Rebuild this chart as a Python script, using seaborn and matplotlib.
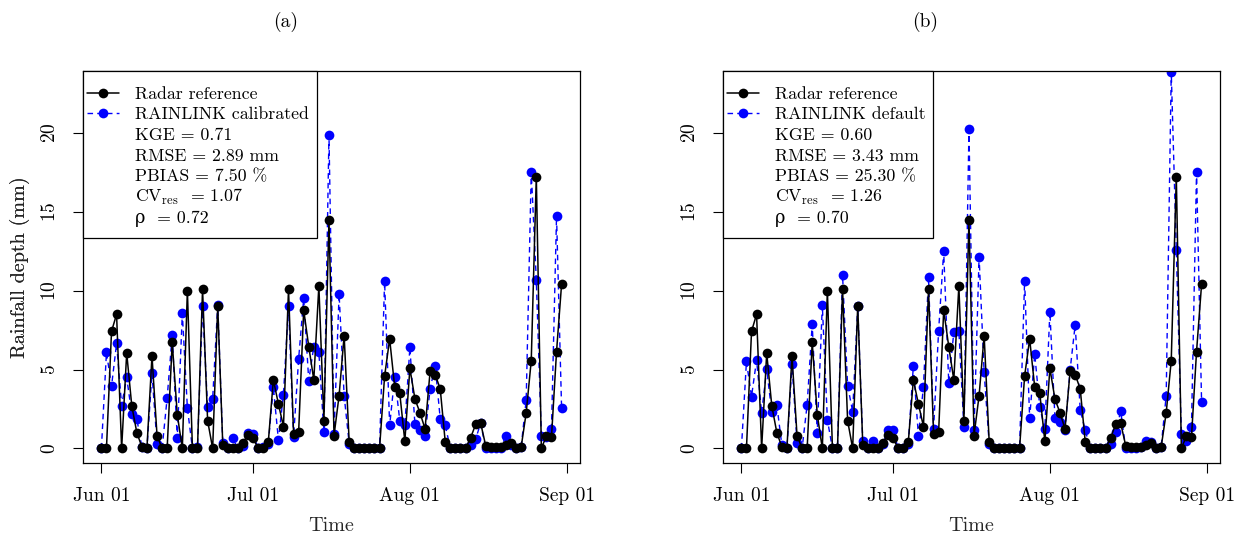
import pandas as pd
import seaborn as sns
import matplotlib.pyplot as plt
import matplotlib.dates as mdates
from matplotlib.lines import Line2D
from matplotlib.patches import Rectangle

# Daily rainfall depth (mm), 1 Jun - 31 Aug
radar = [0, 0, 7.42, 8.5, 0, 6.05, 2.72, 1.01, 0.1, 0,
         5.87, 0.82, 0, 0, 6.73, 2.15, 0, 10.0, 0, 0,
         10.1, 1.77, 0, 9.05, 0.25, 0, 0, 0, 0.36, 0.87,
         0.65, 0, 0, 0.4, 4.35, 2.83, 1.39, 10.1, 0.93, 1.03,
         8.78, 6.46, 4.35, 10.3, 1.77, 14.5, 0.82, 3.35, 7.15, 0.4,
         0, 0, 0, 0, 0, 0, 4.58, 6.94, 3.88, 3.5,
         0.46, 5.08, 3.14, 2.26, 1.24, 4.9, 4.68, 3.78, 0.38, 0,
         0, 0, 0, 0.67, 1.52, 1.6, 0.17, 0.08, 0.08, 0.1,
         0.2, 0.34, 0, 0.08, 2.26, 5.57, 17.23, 0, 0.8, 0.72,
         6.14, 10.42]

rainlink_cal = [0, 6.1, 3.94, 6.66, 2.72, 4.5, 2.2, 1.88, 0.1, 0,
                4.77, 0.3, 0, 3.2, 7.2, 0.65, 8.56, 2.57, 0, 0.1,
                9.05, 2.6, 3.14, 9.1, 0.36, 0.05, 0.65, 0, 0.15, 1.0,
                0.9, 0, 0.1, 0.3, 3.88, 0.55, 3.42, 9.05, 0.72, 5.68,
                9.51, 4.3, 6.46, 6.1, 1.03, 19.85, 0.9, 9.79, 3.35, 0.3,
                0, 0, 0, 0, 0, 0, 10.59, 1.46, 4.56, 1.77,
                1.46, 6.41, 1.52, 1.14, 0.82, 3.78, 5.25, 1.88, 1.46, 0,
                0, 0, 0, 0.2, 0.6, 1.6, 0, 0, 0.05, 0.05,
                0.82, 0.2, 0, 0.1, 3.08, 17.55, 10.67, 0.82, 0.72, 1.24,
                14.75, 2.55]

rainlink_def = [0, 5.53, 3.29, 5.6, 2.24, 5.04, 2.3, 2.78, 0.2, 0,
                5.36, 0.34, 0, 2.78, 7.89, 1.01, 9.07, 1.82, 0, 0.05,
                11.0, 3.99, 2.34, 9.0, 0.45, 0.05, 0.5, 0, 0.3, 1.18,
                1.14, 0, 0, 0.3, 5.23, 0.82, 3.92, 10.84, 1.24, 7.47,
                12.49, 4.17, 7.36, 7.47, 1.35, 20.23, 1.14, 12.15, 4.83, 0.3,
                0, 0, 0, 0, 0, 0, 10.63, 1.92, 5.99, 2.62,
                1.24, 8.67, 1.94, 1.67, 1.2, 4.98, 7.83, 2.45, 1.14, 0,
                0, 0, 0, 0.3, 1.03, 2.36, 0, 0, 0.05, 0.1,
                0.5, 0.4, 0, 0.1, 3.35, 23.88, 12.59, 0.93, 0.5, 1.39,
                17.53, 2.93]

stats_cal = ["KGE = 0.71", "RMSE = 2.89 mm", "PBIAS = 7.50 %",
             r"CV$_{\mathrm{res}}$  = 1.07", "ρ  = 0.72"]
stats_def = ["KGE = 0.60", "RMSE = 3.43 mm", "PBIAS = 25.30 %",
             r"CV$_{\mathrm{res}}$  = 1.26", "ρ  = 0.70"]

dates = pd.date_range("2011-06-01", periods=len(radar), freq="D")
tick_dates = pd.to_datetime(["2011-06-01", "2011-07-01", "2011-08-01", "2011-09-01"])

sns.set_style("ticks")
plt.rcParams["font.family"] = ["cmr10", "DejaVu Serif"]
plt.rcParams["mathtext.fontset"] = "cm"
plt.rcParams["axes.formatter.use_mathtext"] = True
plt.rcParams["text.color"] = "black"

fig = plt.figure(figsize=(12.37, 5.36), dpi=100)
W, H = 1237, 536
AX_W, AX_H, AX_TOP, AX_BOT = 497, 392, 71, 463
BLUE = "#0000ff"

panels = [
    ("(a)", 83, 286, "RAINLINK calibrated", rainlink_cal, stats_cal, 234),
    ("(b)", 723, 925, "RAINLINK default", rainlink_def, stats_def, 210),
]

for title, left, title_x, name, series, stats, leg_w in panels:
    ax = fig.add_axes([left / W, (H - AX_BOT) / H, AX_W / W, AX_H / H])

    # blue first so the radar points sit on top
    sns.lineplot(x=dates, y=series, ax=ax, color=BLUE, marker="o",
                 markersize=7, markeredgewidth=0, linewidth=1.0,
                 linestyle=(0, (4, 3)), estimator=None, errorbar=None)
    sns.lineplot(x=dates, y=radar, ax=ax, color="black", marker="o",
                 markersize=7, markeredgewidth=0, linewidth=1.1,
                 estimator=None, errorbar=None)

    pad = pd.Timedelta(days=3.64)
    ax.set_xlim(dates[0] - pad, dates[-1] + pad)
    ax.set_ylim(-0.92, 23.92)
    ax.set_xticks(tick_dates)
    ax.xaxis.set_major_formatter(mdates.DateFormatter("%b %d"))
    ax.set_yticks([0, 5, 10, 15, 20])
    ax.tick_params(axis="both", direction="out", length=7.2, width=0.8,
                   color="black", labelsize=14, labelcolor="black")
    ax.tick_params(axis="y", pad=10)
    ax.tick_params(axis="x", pad=10)
    for lab in ax.get_yticklabels():
        lab.set_rotation(90)
        lab.set_va("center")
    for sp in ax.spines.values():
        sp.set_visible(True)
        sp.set_color("black")
        sp.set_linewidth(0.9)

    ax.set_xlabel("Time", fontsize=14.5, va="center")
    ax.xaxis.set_label_coords(0.5, (AX_BOT - 526) / AX_H)
    ax.set_ylabel("Rainfall depth (mm)", fontsize=14.5, va="center")
    ax.yaxis.set_label_coords((20 - left) / AX_W, 0.5)

    # legend box in the R style, laid out in pixels from the top-left corner
    def fx(px):
        return px / AX_W

    def fy(py):
        return 1 - py / AX_H

    ax.add_patch(Rectangle((0, fy(238 - AX_TOP)), fx(leg_w), (238 - AX_TOP) / AX_H,
                           transform=ax.transAxes, facecolor="white",
                           edgecolor="black", linewidth=0.9, zorder=5,
                           clip_on=False))
    rows = ["Radar reference", name] + stats
    styles = [dict(color="black", linewidth=1.1, linestyle="-"),
              dict(color=BLUE, linewidth=1.0, linestyle=(0, (4, 3)))]
    for i, label in enumerate(rows):
        mid = 21.7 + 20.7 * i
        if i < 2:
            ax.add_line(Line2D([fx(4), fx(36)], [fy(mid), fy(mid)],
                               transform=ax.transAxes, zorder=6, **styles[i]))
            ax.add_line(Line2D([fx(20)], [fy(mid)], transform=ax.transAxes,
                               marker="o", markersize=7, markeredgewidth=0,
                               color=styles[i]["color"], zorder=7))
        ax.text(fx(52), fy(mid + 6), label, transform=ax.transAxes,
                ha="left", va="baseline", fontsize=12.8, zorder=7)

    fig.text(title_x / W, 1 - 22 / H, title, ha="center", va="center",
             fontsize=14)

fig.savefig("out.png", dpi=100)
